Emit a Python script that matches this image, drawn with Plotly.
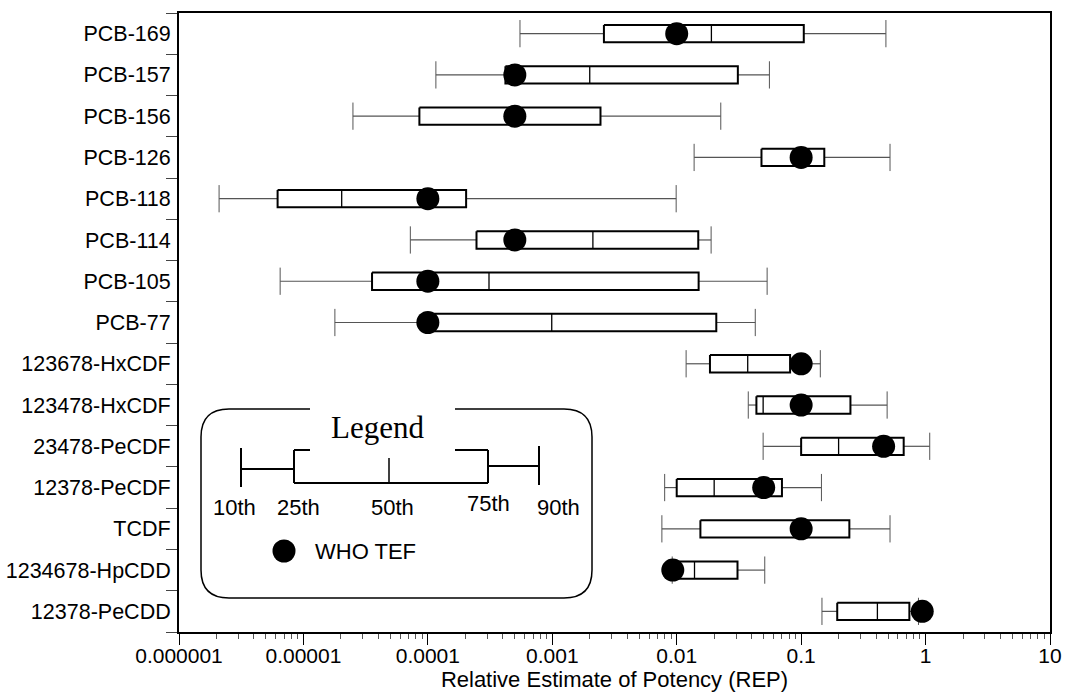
import plotly.graph_objects as go

# ---------------- data ----------------
categories = ["PCB-169", "PCB-157", "PCB-156", "PCB-126", "PCB-118", "PCB-114",
              "PCB-105", "PCB-77", "123678-HxCDF", "123478-HxCDF", "23478-PeCDF",
              "12378-PeCDF", "TCDF", "1234678-HpCDD", "12378-PeCDD"]
p10 = [0.00055, 0.000116, 0.000025, 0.0138, 0.0000021, 0.0000723, 0.0000065,
       0.0000179, 0.0119, 0.0376, 0.0495, 0.0080, 0.0076, 0.0092, 0.147]
p25 = [0.0026, 0.00042, 0.0000855, 0.048, 0.0000062, 0.000246, 0.0000356,
       0.0001, 0.0185, 0.0437, 0.1, 0.01, 0.0155, 0.01, 0.195]
p50 = [0.019, 0.002, 0.0005, 0.1, 0.0000203, 0.00212, 0.00031,
       0.00099, 0.0372, 0.0495, 0.2, 0.02, 0.1, 0.0139, 0.41]
p75 = [0.105, 0.031, 0.00244, 0.1535, 0.000203, 0.0149, 0.015,
       0.0208, 0.0815, 0.249, 0.667, 0.0701, 0.244, 0.0308, 0.741]
p90 = [0.48, 0.0556, 0.0226, 0.518, 0.0099, 0.0189, 0.0533,
       0.0428, 0.1426, 0.491, 1.08, 0.1456, 0.518, 0.051, 0.877]
who_tef = [0.01, 0.0005, 0.0005, 0.1, 0.0001, 0.0005, 0.0001,
           0.0001, 0.1, 0.1, 0.46, 0.05, 0.1, 0.0093, 0.94]
x_tick_vals = [1e-6, 1e-5, 1e-4, 1e-3, 1e-2, 1e-1, 1, 10]
x_tick_text = ["0.000001", "0.00001", "0.0001", "0.001", "0.01", "0.1", "1", "10"]
legend_labels = ["10th", "25th", "50th", "75th", "90th"]

# ---------------- style ----------------
SANS = "Liberation Sans, Arial, sans-serif"
SERIF = "Liberation Serif, Times New Roman, serif"
W, H = 1065, 692
ML, MR, MT, MB = 179, 15, 13, 60
PW, PH = W - ML - MR, H - MT - MB
BOX_H = 0.21   # half box height (category units)
CAP_H = 0.33   # half cap height

idx = list(range(len(categories)))

fig = go.Figure()

# whiskers
wx, wy = [], []
for i in idx:
    wx += [p10[i], p25[i], None, p75[i], p90[i], None]
    wy += [i, i, None, i, i, None]
fig.add_trace(go.Scatter(x=wx, y=wy, mode="lines",
                         line=dict(color="#555555", width=1.2),
                         hoverinfo="skip", showlegend=False))
# caps
cx, cy = [], []
for i in idx:
    cx += [p10[i], p10[i], None, p90[i], p90[i], None]
    cy += [i - CAP_H, i + CAP_H, None, i - CAP_H, i + CAP_H, None]
fig.add_trace(go.Scatter(x=cx, y=cy, mode="lines",
                         line=dict(color="#555555", width=1),
                         hoverinfo="skip", showlegend=False))
# boxes
bx, by = [], []
for i in idx:
    bx += [p25[i], p75[i], p75[i], p25[i], p25[i], None]
    by += [i - BOX_H, i - BOX_H, i + BOX_H, i + BOX_H, i - BOX_H, None]
fig.add_trace(go.Scatter(x=bx, y=by, mode="lines", fill="toself",
                         fillcolor="white", line=dict(color="black", width=2),
                         hoverinfo="skip", showlegend=False))
# medians
mx, my = [], []
for i in idx:
    mx += [p50[i], p50[i], None]
    my += [i - BOX_H, i + BOX_H, None]
fig.add_trace(go.Scatter(x=mx, y=my, mode="lines",
                         line=dict(color="black", width=1.3),
                         hoverinfo="skip", showlegend=False))
# WHO TEF dots
fig.add_trace(go.Scatter(x=who_tef, y=idx, mode="markers",
                         marker=dict(color="black", size=23),
                         name="WHO TEF", showlegend=False))

# ---------------- hand-drawn legend (pixel -> paper) ----------------
def PX(px):
    return (px - ML) / PW

def PY(py):
    return (H - MB - py) / PH

shapes = []
L, R, T, B, r = 201, 592, 409, 598, 28
path = (f"M {PX(L + r)},{PY(T)} L {PX(R - r)},{PY(T)} "
        f"Q {PX(R)},{PY(T)} {PX(R)},{PY(T + r)} L {PX(R)},{PY(B - r)} "
        f"Q {PX(R)},{PY(B)} {PX(R - r)},{PY(B)} L {PX(L + r)},{PY(B)} "
        f"Q {PX(L)},{PY(B)} {PX(L)},{PY(B - r)} L {PX(L)},{PY(T + r)} "
        f"Q {PX(L)},{PY(T)} {PX(L + r)},{PY(T)} Z")
shapes.append(dict(type="path", xref="paper", yref="paper", path=path,
                   fillcolor="white", line=dict(color="black", width=1.5)))

def seg(x0, y0, x1, y1, w=2):
    shapes.append(dict(type="line", xref="paper", yref="paper",
                       x0=PX(x0), y0=PY(y0), x1=PX(x1), y1=PY(y1),
                       line=dict(color="black", width=w)))

seg(241, 448, 241, 487)
seg(241, 469, 294, 469)
seg(294, 450, 294, 483)
seg(294, 483, 488, 483)
seg(294, 450, 488, 450)
seg(488, 450, 488, 483)
seg(389, 458, 389, 483, 1.5)
seg(488, 466, 539, 466)
seg(539, 446, 539, 485)
# white gap behind the "Legend" title
shapes.append(dict(type="rect", xref="paper", yref="paper",
                   x0=PX(310), x1=PX(455), y0=PY(453), y1=PY(402),
                   fillcolor="white", line=dict(width=0)))
# legend dot
shapes.append(dict(type="circle", xref="paper", yref="paper",
                   x0=PX(284 - 11.5), x1=PX(284 + 11.5),
                   y0=PY(551 + 11.5), y1=PY(551 - 11.5),
                   fillcolor="black", line=dict(color="black", width=0)))

annotations = [dict(xref="paper", yref="paper", x=PX(377), y=PY(427),
                    text="Legend", showarrow=False,
                    font=dict(family=SERIF, size=31, color="black"),
                    xanchor="center", yanchor="middle")]
lab_pos = [(234, 507), (298, 507), (392, 507), (488, 503), (558, 507)]
for t, (lx, ly) in zip(legend_labels, lab_pos):
    annotations.append(dict(xref="paper", yref="paper", x=PX(lx), y=PY(ly),
                            text=t, showarrow=False,
                            font=dict(family=SANS, size=22, color="black"),
                            xanchor="center", yanchor="middle"))
annotations.append(dict(xref="paper", yref="paper", x=PX(313), y=PY(551),
                        text="WHO TEF", showarrow=False,
                        font=dict(family=SANS, size=22, color="black"),
                        xanchor="left", yanchor="middle"))

minor_x = [k * 10.0 ** e for e in range(-6, 1) for k in range(2, 10)]

fig.update_layout(
    width=W, height=H,
    margin=dict(l=ML, r=MR, t=MT, b=MB, autoexpand=False),
    plot_bgcolor="white", paper_bgcolor="white",
    font=dict(family=SANS, size=21, color="black"),
    shapes=shapes, annotations=annotations,
    xaxis=dict(type="log", range=[-6, 1],
               tickmode="array", tickvals=x_tick_vals, ticktext=x_tick_text,
               ticks="outside", ticklen=11, tickwidth=1.2, tickcolor="black",
               minor=dict(tickmode="array", tickvals=minor_x, ticks="outside",
                          ticklen=5, tickwidth=1, tickcolor="#555555",
                          showgrid=False),
               showgrid=False, zeroline=False,
               showline=True, linecolor="black", linewidth=2, mirror=True,
               tickfont=dict(family=SANS, size=21, color="black"),
               ticklabelstandoff=-7,
               title=dict(text="Relative Estimate of Potency (REP)",
                          font=dict(family=SANS, size=22, color="black"),
                          standoff=0),
               automargin=False),
    yaxis=dict(range=[14.5, -0.5], tickmode="array", tickvals=idx,
               ticktext=categories, ticks="",
               minor=dict(tickmode="array",
                          tickvals=[k + 0.5 for k in range(-1, 15)],
                          ticks="outside", ticklen=11, tickwidth=1,
                          tickcolor="#444444", showgrid=False),
               showgrid=False, zeroline=False,
               showline=True, linecolor="black", linewidth=2, mirror=True,
               tickfont=dict(family=SANS, size=21.5, color="black"),
               ticklabelstandoff=2,
               automargin=False),
)

fig.write_html("out.html",
               config={"displayModeBar": False},
               post_script="document.body.style.margin='0';"
                           "document.body.style.padding='0';")
